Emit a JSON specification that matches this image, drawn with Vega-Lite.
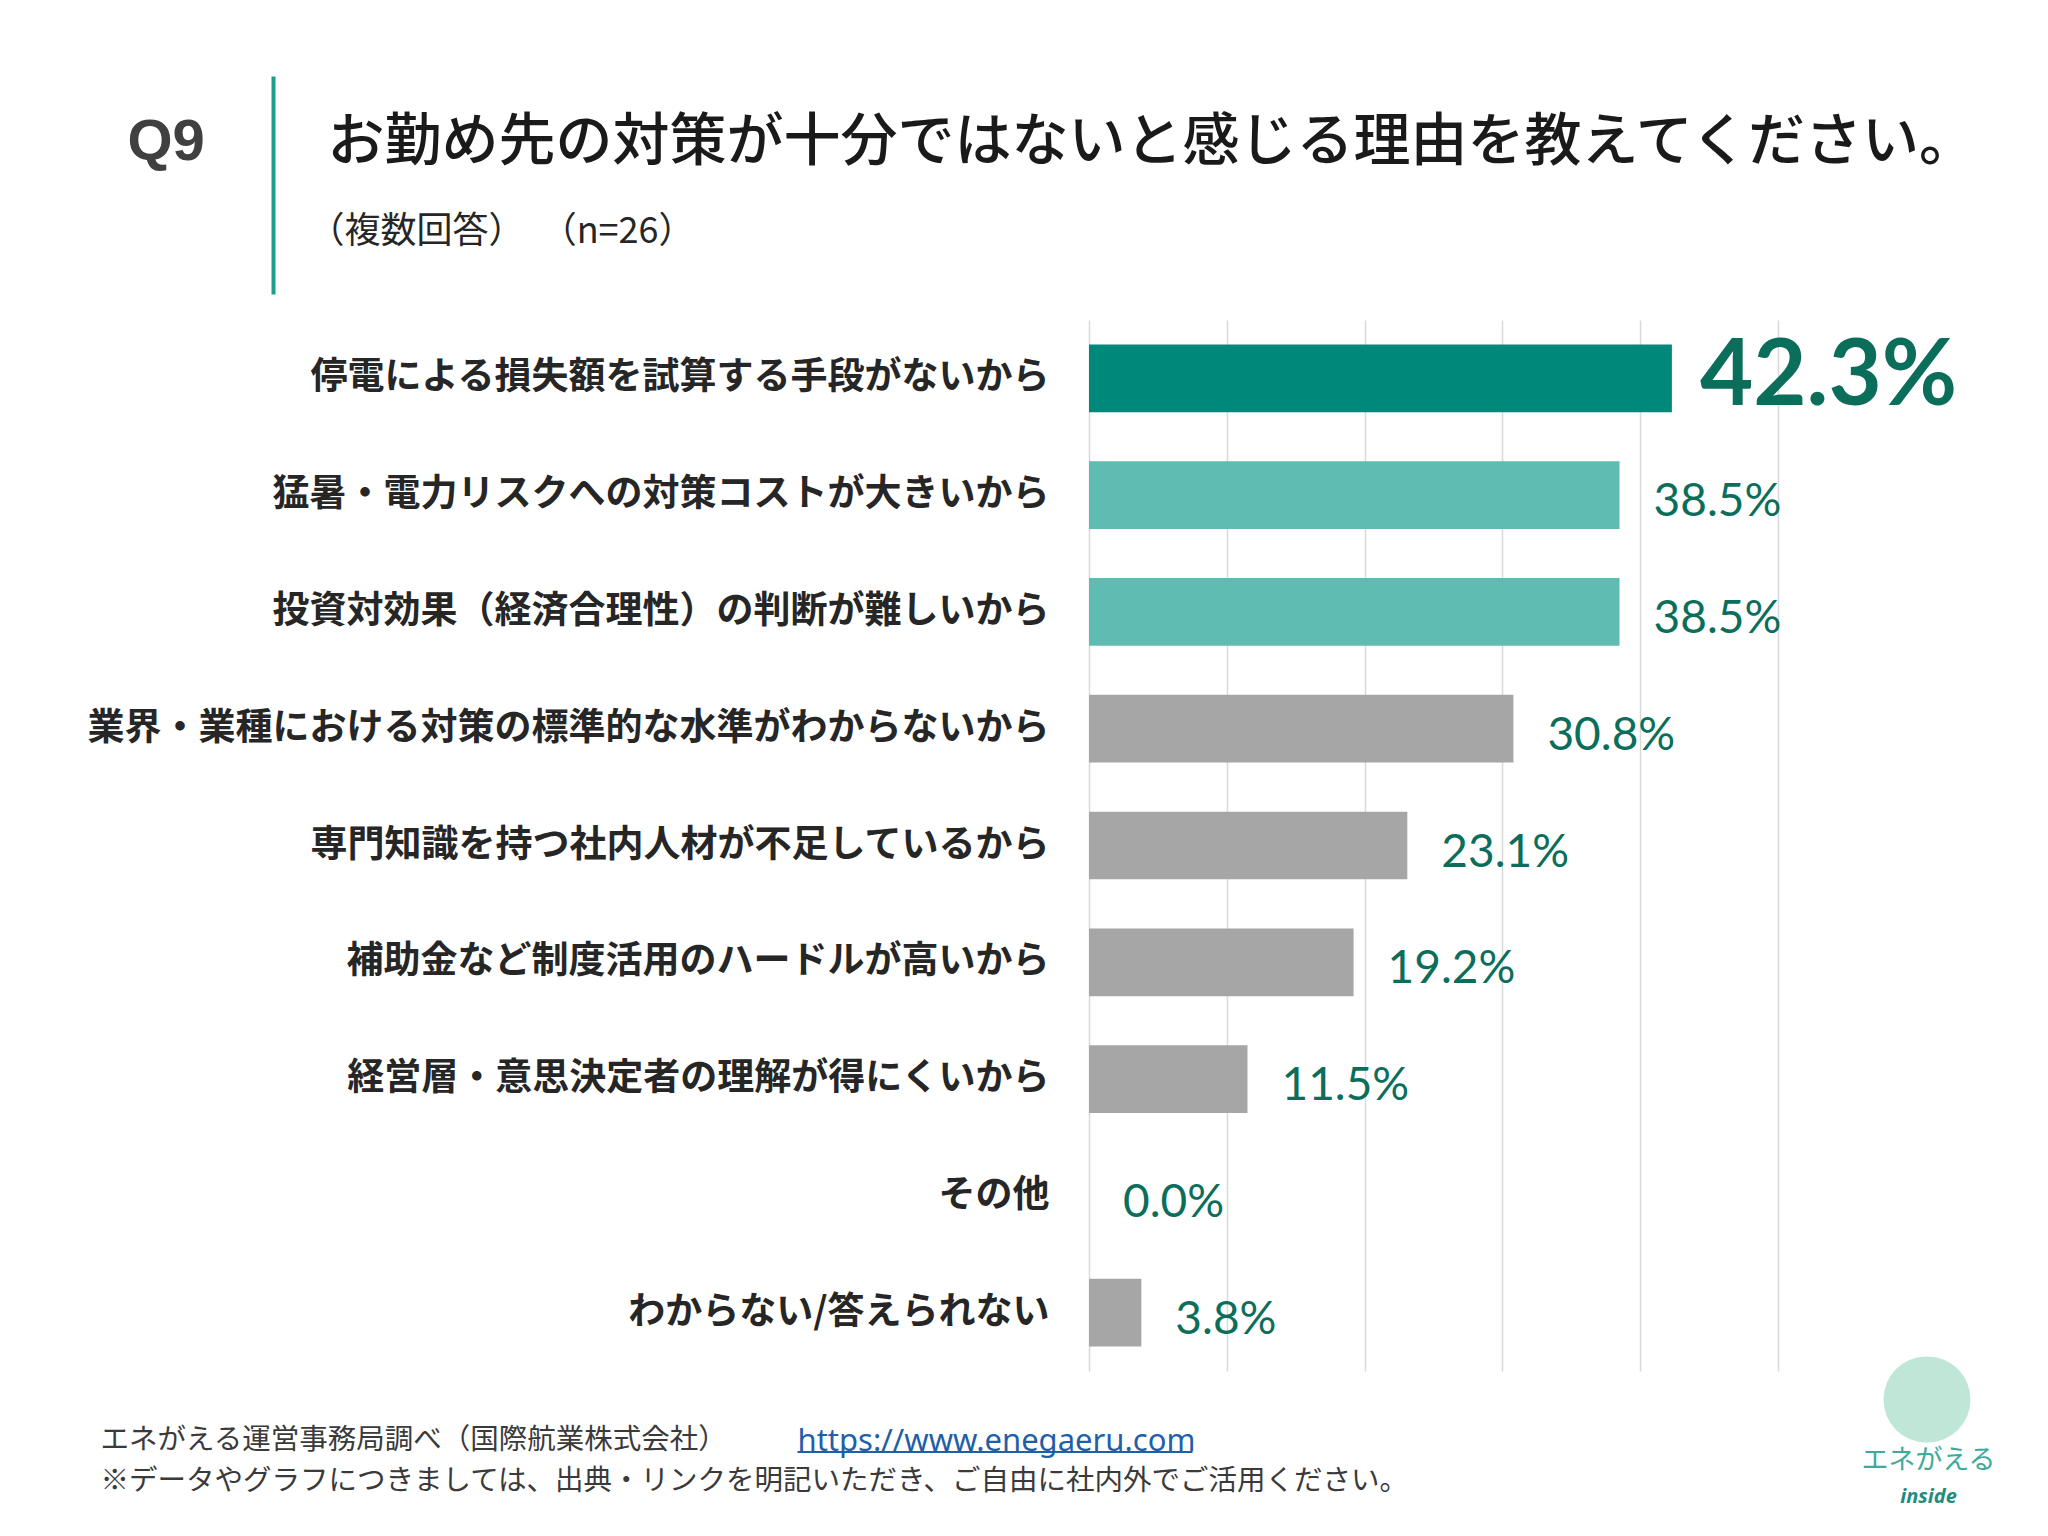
{
  "$schema": "https://vega.github.io/schema/vega-lite/v6.json",
  "width": 689,
  "height": 1051,
  "autosize": {"type": "none"},
  "padding": {"left": 1089, "top": 320, "right": 270, "bottom": 165},
  "background": "white",
  "config": {"view": {"stroke": null}},
  "data": {
    "values": [
      {"reason": "停電による損失額を試算する手段がないから", "pct": 0.423},
      {"reason": "猛暑・電力リスクへの対策コストが大きいから", "pct": 0.385},
      {"reason": "投資対効果（経済合理性）の判断が難しいから", "pct": 0.385},
      {"reason": "業界・業種における対策の標準的な水準がわからないから", "pct": 0.308},
      {"reason": "専門知識を持つ社内人材が不足しているから", "pct": 0.231},
      {"reason": "補助金など制度活用のハードルが高いから", "pct": 0.192},
      {"reason": "経営層・意思決定者の理解が得にくいから", "pct": 0.115},
      {"reason": "その他", "pct": 0.0},
      {"reason": "わからない/答えられない", "pct": 0.038}
    ]
  },
  "resolve": {"axis": {"x": "independent", "y": "independent"}},
  "layer": [
    {
      "mark": {"type": "bar"},
      "encoding": {
        "y": {
          "field": "reason", "type": "nominal",
          "sort": ["停電による損失額を試算する手段がないから", "猛暑・電力リスクへの対策コストが大きいから", "投資対効果（経済合理性）の判断が難しいから", "業界・業種における対策の標準的な水準がわからないから", "専門知識を持つ社内人材が不足しているから", "補助金など制度活用のハードルが高いから", "経営層・意思決定者の理解が得にくいから", "その他", "わからない/答えられない"],
          "scale": {"paddingInner": 0.42, "paddingOuter": 0.21},
          "axis": {
            "orient": "left", "ticks": false, "domain": false, "grid": false,
            "labelFont": "Noto Sans CJK JP", "labelFontSize": 37, "labelFontWeight": "bold",
            "labelColor": "#262626", "labelPadding": 40, "labelLimit": 1100,
            "title": "Q9", "titleAngle": 0, "titleX": -962, "titleY": -161,
            "titleAlign": "left", "titleBaseline": "alphabetic",
            "titleFont": "Liberation Sans", "titleFontSize": 58, "titleFontWeight": "bold",
            "titleColor": "#404040"
          }
        },
        "x": {
          "field": "pct", "type": "quantitative",
          "scale": {"domain": [0, 0.5], "nice": false},
          "axis": {
            "orient": "bottom", "values": [0, 0.1, 0.2, 0.3, 0.4, 0.5],
            "grid": true, "gridColor": "#D9D9D9", "gridWidth": 1.5,
            "labels": false, "ticks": false, "domain": false, "zindex": 0,
            "title": ["エネがえる運営事務局調べ（国際航業株式会社）", "※データやグラフにつきましては、出典・リンクを明記いただき、ご自由に社内外でご活用ください。"],
            "titleX": -989, "titleY": 77, "titleAlign": "left", "titleBaseline": "alphabetic",
            "titleFont": "Noto Sans CJK JP", "titleFontSize": 28.5, "titleFontWeight": "normal",
            "titleColor": "#3A3A3A", "titleLineHeight": 41, "titleLimit": 2000
          }
        },
        "color": {
          "condition": [
            {"test": "datum.pct > 0.4", "value": "#00897A"},
            {"test": "datum.pct > 0.35", "value": "#5FBCB3"}
          ],
          "value": "#A6A6A6"
        }
      }
    },
    {
      "transform": [{"filter": "datum.pct <= 0.4"}],
      "mark": {"type": "text", "align": "left", "baseline": "middle", "dx": 34, "dy": 7, "font": "Lato", "fontSize": 46, "color": "#0B6E5B"},
      "encoding": {
        "y": {
          "field": "reason", "type": "nominal",
          "sort": ["停電による損失額を試算する手段がないから", "猛暑・電力リスクへの対策コストが大きいから", "投資対効果（経済合理性）の判断が難しいから", "業界・業種における対策の標準的な水準がわからないから", "専門知識を持つ社内人材が不足しているから", "補助金など制度活用のハードルが高いから", "経営層・意思決定者の理解が得にくいから", "その他", "わからない/答えられない"],
          "axis": {
            "orient": "left", "labels": false, "ticks": false, "domain": false, "grid": false,
            "title": "お勤め先の対策が十分ではないと感じる理由を教えてください。",
            "titleAngle": 0, "titleX": -762, "titleY": -161,
            "titleAlign": "left", "titleBaseline": "alphabetic",
            "titleFont": "Noto Sans CJK JP", "titleFontSize": 57, "titleFontWeight": 500,
            "titleColor": "#1A1A1A", "titleLimit": 2000
          }
        },
        "x": {
          "field": "pct", "type": "quantitative",
          "axis": {
            "orient": "top", "position": -816, "offset": 26, "values": [0],
            "labels": false, "domain": false, "grid": false,
            "ticks": true, "tickSize": 218, "tickWidth": 4, "tickColor": "#1E9C8C",
            "title": "https://www.enegaeru.com",
            "titleX": 524, "titleY": 1156, "titleAlign": "left", "titleBaseline": "alphabetic", "titleAngle": 0,
            "titleFont": "Noto Sans", "titleFontSize": 31, "titleFontWeight": "normal", "titleColor": "#1F5FA8",
            "titleLimit": 1000
          }
        },
        "text": {"field": "pct", "type": "quantitative", "format": ".1%"}
      }
    },
    {
      "transform": [{"filter": "datum.pct > 0.4"}],
      "mark": {"type": "text", "align": "left", "baseline": "middle", "dx": 28, "dy": -1, "font": "Lato", "fontSize": 92, "fontWeight": "bold", "color": "#0B6E5B"},
      "encoding": {
        "y": {
          "field": "reason", "type": "nominal",
          "sort": ["停電による損失額を試算する手段がないから", "猛暑・電力リスクへの対策コストが大きいから", "投資対効果（経済合理性）の判断が難しいから", "業界・業種における対策の標準的な水準がわからないから", "専門知識を持つ社内人材が不足しているから", "補助金など制度活用のハードルが高いから", "経営層・意思決定者の理解が得にくいから", "その他", "わからない/答えられない"],
          "axis": {
            "orient": "right", "offset": 148, "domain": false, "grid": false, "labels": false,
            "values": ["わからない/答えられない"],
            "ticks": true, "tickSize": 1, "tickWidth": 86, "tickCap": "round",
            "tickColor": "#BFE6D6", "tickOffset": 86,
            "title": "エネがえる", "titleAngle": 0, "titleX": 2, "titleY": 1148,
            "titleAlign": "center", "titleBaseline": "alphabetic",
            "titleFont": "Noto Sans CJK JP", "titleFontSize": 27, "titleFontWeight": "normal",
            "titleColor": "#3FA99B"
          }
        },
        "x": {
          "field": "pct", "type": "quantitative",
          "axis": {
            "orient": "top", "labels": false, "ticks": false, "domain": false, "grid": false,
            "title": "（複数回答）\u00a0\u00a0（n=26）",
            "titleX": -781, "titleY": -78, "titleAlign": "left", "titleBaseline": "alphabetic", "titleAngle": 0,
            "titleFont": "Noto Sans CJK JP", "titleFontSize": 36, "titleFontWeight": "normal", "titleColor": "#262626",
            "titleLimit": 1000
          }
        },
        "text": {"field": "pct", "type": "quantitative", "format": ".1%"}
      }
    },
    {
      "transform": [{"filter": "datum.pct < 0"}],
      "mark": {"type": "point"},
      "encoding": {
        "y": {
          "field": "reason", "type": "nominal",
          "sort": ["停電による損失額を試算する手段がないから", "猛暑・電力リスクへの対策コストが大きいから", "投資対効果（経済合理性）の判断が難しいから", "業界・業種における対策の標準的な水準がわからないから", "専門知識を持つ社内人材が不足しているから", "補助金など制度活用のハードルが高いから", "経営層・意思決定者の理解が得にくいから", "その他", "わからない/答えられない"],
          "axis": {
            "orient": "left", "position": 139.4, "offset": -103,
            "values": ["わからない/答えられない"],
            "labels": false, "domain": false, "grid": false,
            "ticks": true, "tickSize": 395, "tickWidth": 2, "tickColor": "#1F5FA8",
            "title": "inside", "titleAngle": 0, "titleX": 736, "titleY": 1043,
            "titleAlign": "center", "titleBaseline": "alphabetic",
            "titleFont": "Noto Sans", "titleFontSize": 20, "titleFontWeight": "bold", "titleFontStyle": "italic",
            "titleColor": "#1F8C80"
          }
        },
        "x": {"field": "pct", "type": "quantitative", "axis": null}
      }
    }
  ]
}
